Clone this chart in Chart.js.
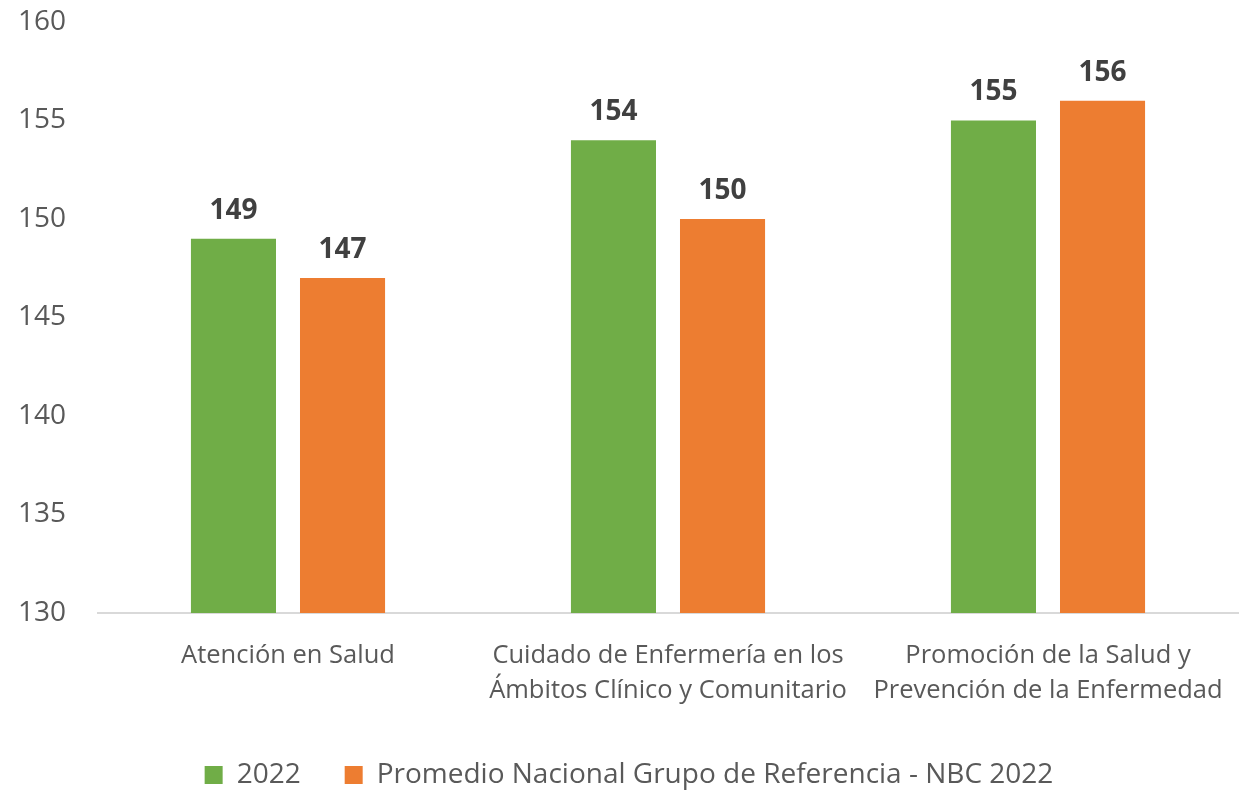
<!DOCTYPE html>
<html>
<head>
<meta charset="utf-8">
<script src="https://cdn.jsdelivr.net/npm/chart.js@4.4.1/dist/chart.umd.min.js"></script>
<style>
  html, body { margin: 0; padding: 0; background: #ffffff; }
  #wrap { width: 1251px; height: 792px; position: relative; }
</style>
</head>
<body>
<div id="wrap"><canvas id="barChart"></canvas></div>
<script>
// ---- data ----
const categories = [
    'Atención en Salud',
    ['Cuidado de Enfermería en los', 'Ámbitos Clínico y Comunitario'],
    ['Promoción de la Salud y', 'Prevención de la Enfermedad']
];
const values2022 = [149, 154, 155];
const valuesPromedio = [147, 150, 156];
const seriesNames = ['2022', 'Promedio Nacional Grupo de Referencia - NBC 2022'];
const yTicks = [130, 135, 140, 145, 150, 155, 160];

const FONT = '"Open Sans", sans-serif';

// draws value labels above each bar
const barValueLabels = {
    id: 'barValueLabels',
    afterDatasetsDraw(chart) {
        const ctx = chart.ctx;
        ctx.save();
        ctx.font = 'bold 28px ' + FONT;
        ctx.fillStyle = '#404040';
        ctx.textAlign = 'center';
        ctx.textBaseline = 'middle';
        chart.data.datasets.forEach((ds, i) => {
            chart.getDatasetMeta(i).data.forEach((bar, j) => {
                ctx.fillText(ds.data[j], bar.x, bar.y - 28);
            });
        });
        ctx.restore();
    }
};

const ctx = document.getElementById('barChart').getContext('2d');
new Chart(ctx, {
    type: 'bar',
    data: {
        labels: categories,
        datasets: [
            {
                label: seriesNames[0],
                data: values2022,
                backgroundColor: '#70AD47',
                categoryPercentage: 0.574,
                barPercentage: 0.78
            },
            {
                label: seriesNames[1],
                data: valuesPromedio,
                backgroundColor: '#ED7D31',
                categoryPercentage: 0.574,
                barPercentage: 0.78
            }
        ]
    },
    options: {
        responsive: true,
        maintainAspectRatio: false,
        animation: false,
        layout: { padding: { top: 0, left: 20, right: 13, bottom: -7 } },
        plugins: {
            legend: {
                position: 'bottom',
                labels: {
                    font: { family: FONT, size: 28 },
                    color: '#595959',
                    boxWidth: 18,
                    boxHeight: 18,
                    padding: 44
                }
            },
            tooltip: { enabled: false }
        },
        scales: {
            x: {
                grid: { display: false, drawTicks: false },
                border: { display: true, color: '#d9d9d9', width: 2 },
                afterFit(axis) {
                    axis.height = 104;
                },
                ticks: {
                    font: { family: FONT, size: 25.5, lineHeight: 1.38 },
                    color: '#595959',
                    padding: 25,
                    maxRotation: 0,
                    autoSkip: false
                }
            },
            y: {
                min: 130,
                max: 160,
                afterBuildTicks(axis) {
                    axis.ticks = yTicks.map(v => ({ value: v }));
                },
                afterFit(axis) {
                    axis.width = 78;
                    axis.paddingTop = 22;
                    axis.paddingBottom = 0;
                },
                grid: { display: false, drawTicks: false },
                border: { display: false },
                ticks: {
                    font: { family: FONT, size: 28 },
                    color: '#595959',
                    padding: 32
                }
            }
        }
    },
    plugins: [barValueLabels]
});
</script>
</body>
</html>
